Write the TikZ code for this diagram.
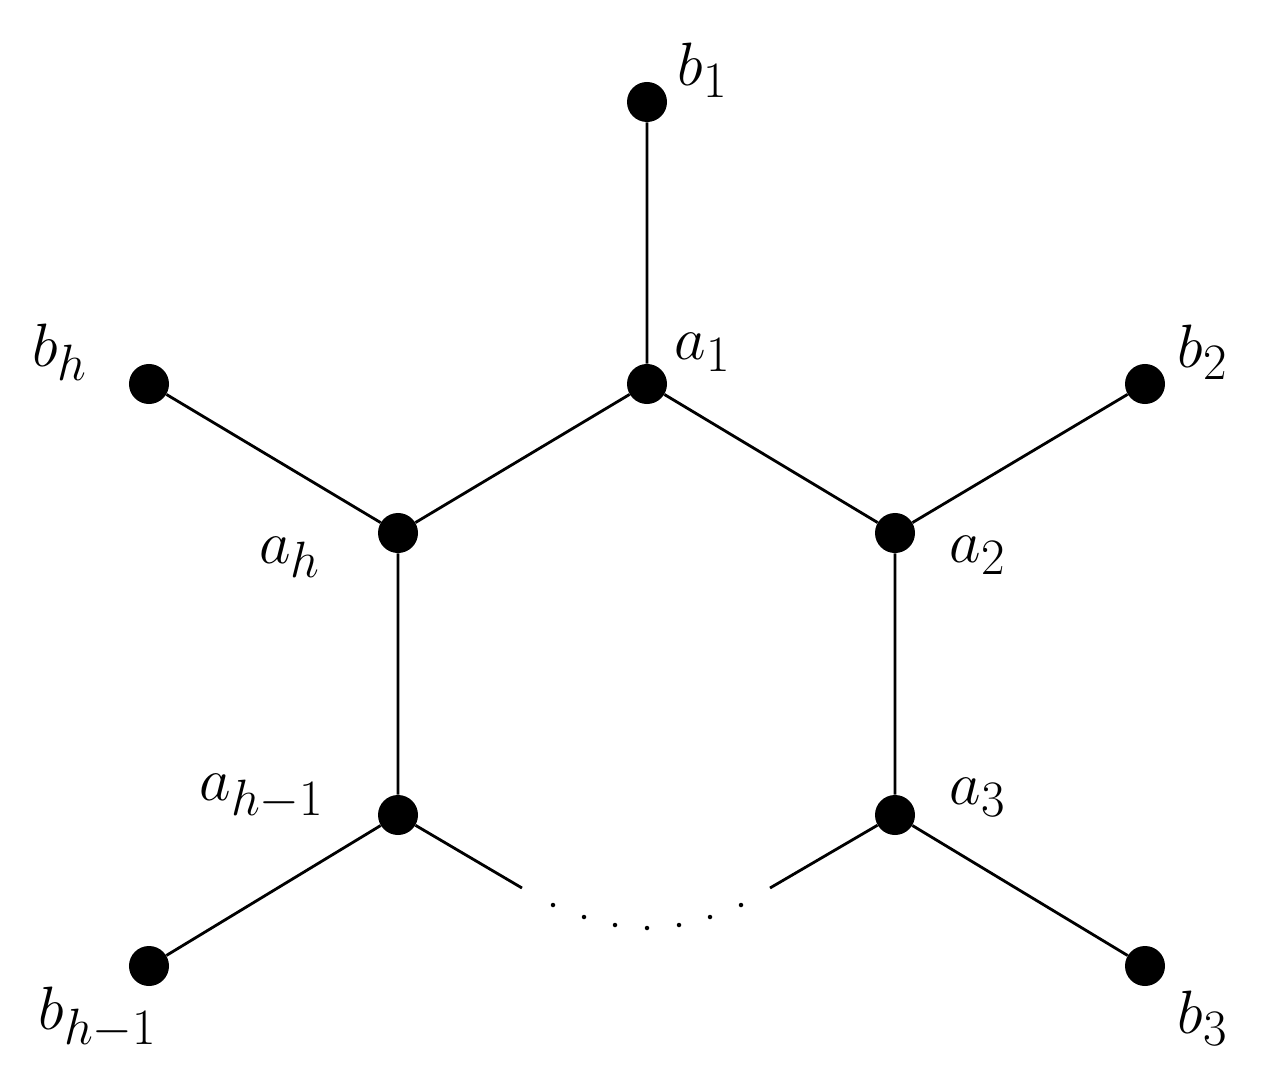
\documentclass[tikz,border=0pt]{standalone}
\begin{document}
\begin{tikzpicture}[x=0.025cm,y=-0.025cm,
  vtx/.style={circle,fill=black,inner sep=0pt,minimum size=1cm},
  lbl/.style={font=\Huge,scale=1.75},
  edge/.style={line width=2pt}]
\useasboundingbox (0,0) rectangle (1281,1083);
\node[vtx] (b1) at (647,102) {};
\node[vtx] (a1) at (647,384) {};
\node[vtx] (b2) at (1145,384) {};
\node[vtx] (a2) at (895,533) {};
\node[vtx] (bh) at (149,384) {};
\node[vtx] (ah) at (398,533) {};
\node[vtx] (a3) at (895,815) {};
\node[vtx] (b3) at (1145,966) {};
\node[vtx] (ahm) at (398,815) {};
\node[vtx] (bhm) at (149,966) {};
\coordinate (l) at (522,888);
\coordinate (r) at (770,888);
\draw[edge] (b1)--(a1) (a1)--(a2) (a2)--(b2) (a1)--(ah) (ah)--(bh) (ah)--(ahm) (a2)--(a3) (a3)--(b3) (ahm)--(bhm) (ahm)--(l) (a3)--(r);
\foreach \x/\y in {553/905,584/917,615/925,647/928,679/925,710/917,741/905}
  \fill (\x,\y) circle (1.6pt);
\node[lbl] at (703,70) {$b_1$};
\node[lbl] at (703,352) {$a_1$};
\node[lbl] at (1203,352) {$b_2$};
\node[lbl] at (978,555) {$a_2$};
\node[lbl] at (60,352) {$b_h$};
\node[lbl] at (290,557) {$a_h$};
\node[lbl] at (262,797) {$a_{h-1}$};
\node[lbl] at (978,797) {$a_3$};
\node[lbl] at (98,1018) {$b_{h-1}$};
\node[lbl] at (1203,1018) {$b_3$};
\end{tikzpicture}
\end{document}
